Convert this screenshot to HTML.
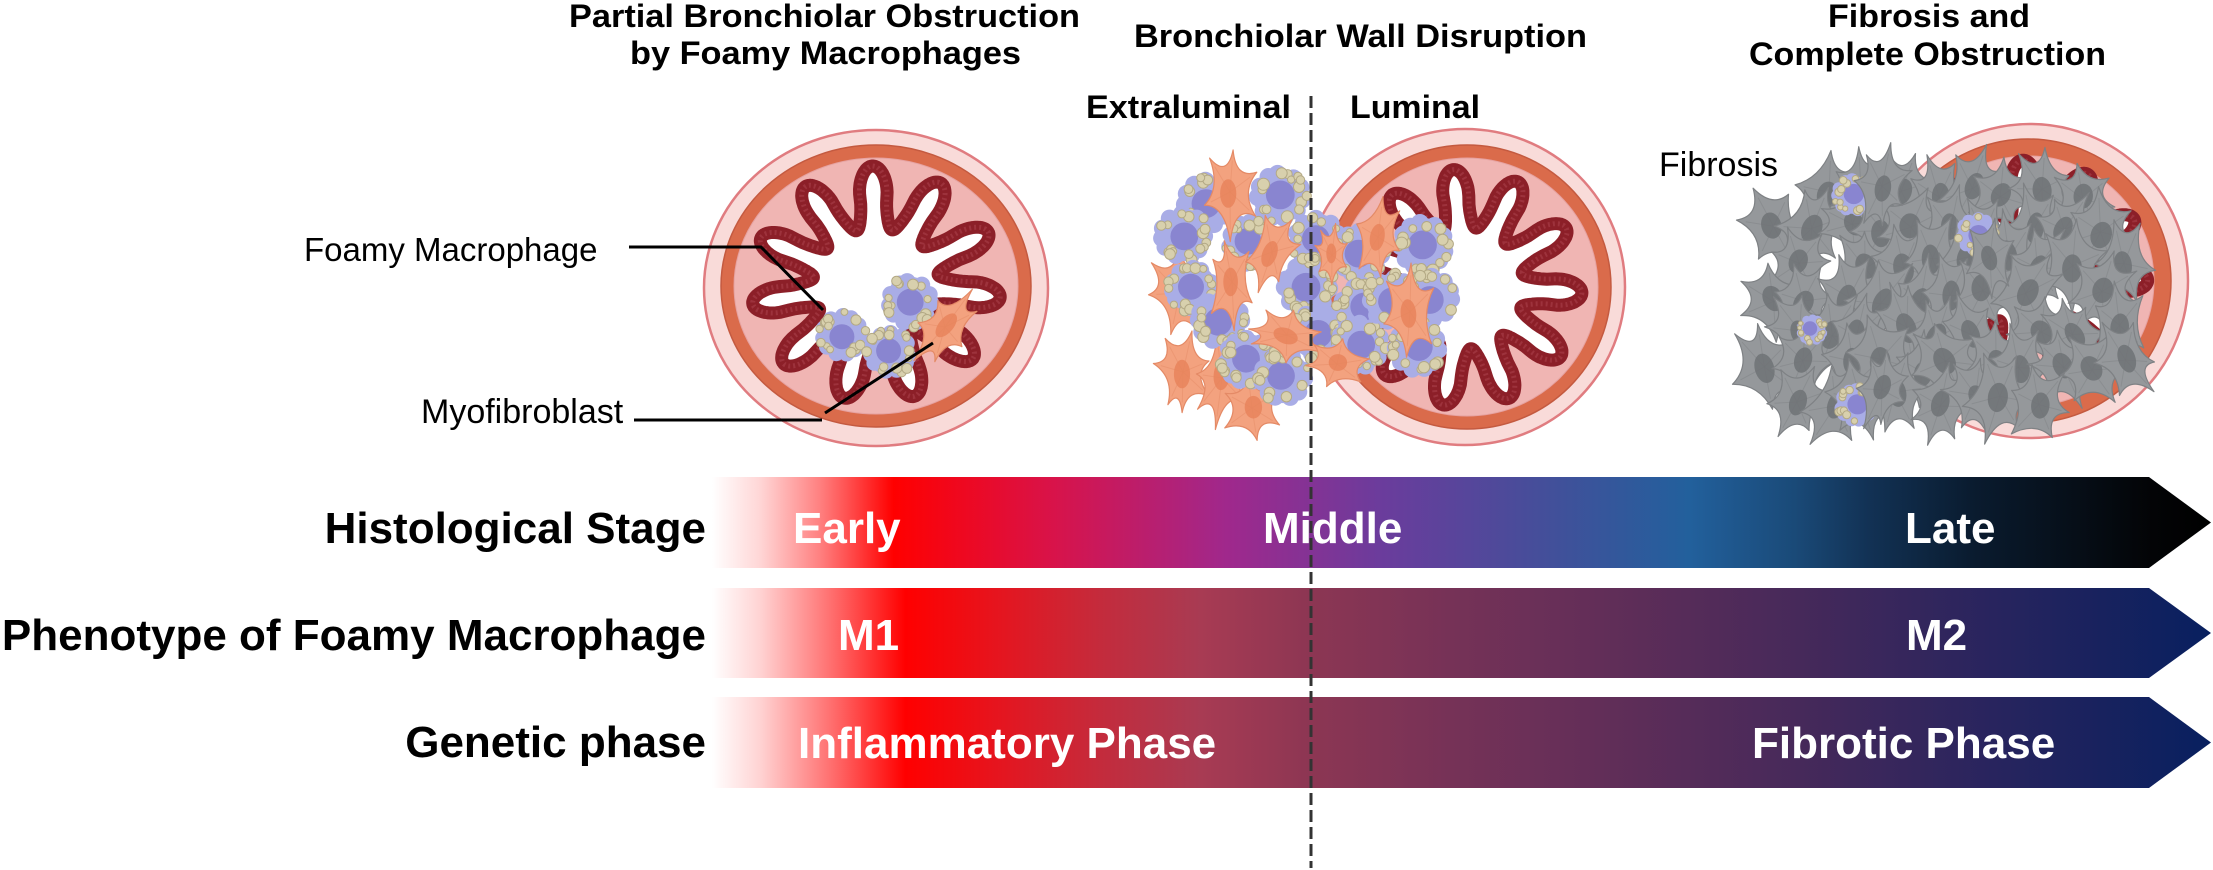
<!DOCTYPE html>
<html><head><meta charset="utf-8">
<style>
html,body{margin:0;padding:0;background:#fff;}
svg{display:block;}
text{font-family:"Liberation Sans", Arial, sans-serif;}
</style></head>
<body>
<svg id="s" width="2213" height="870" viewBox="0 0 2213 870" xmlns="http://www.w3.org/2000/svg">
<defs>
 <linearGradient id="g1" gradientUnits="userSpaceOnUse" x1="712" y1="0" x2="2211" y2="0">
  <stop offset="0" stop-color="#ffffff"/>
  <stop offset="0.032" stop-color="#ffd6d6"/>
  <stop offset="0.072" stop-color="#ff8080"/>
  <stop offset="0.121" stop-color="#ff0000"/>
  <stop offset="0.228" stop-color="#d8134a"/>
  <stop offset="0.343" stop-color="#a0288c"/>
  <stop offset="0.446" stop-color="#6b3c9c"/>
  <stop offset="0.546" stop-color="#474d9a"/>
  <stop offset="0.652" stop-color="#22609c"/>
  <stop offset="0.722" stop-color="#1a4a78"/>
  <stop offset="0.771" stop-color="#123255"/>
  <stop offset="0.839" stop-color="#0a1c30"/>
  <stop offset="0.961" stop-color="#030406"/>
  <stop offset="1" stop-color="#000000"/>
 </linearGradient>
 <linearGradient id="g2" gradientUnits="userSpaceOnUse" x1="712" y1="0" x2="2211" y2="0">
  <stop offset="0" stop-color="#ffffff"/>
  <stop offset="0.032" stop-color="#ffd3d3"/>
  <stop offset="0.079" stop-color="#ff7070"/>
  <stop offset="0.129" stop-color="#ff0000"/>
  <stop offset="0.192" stop-color="#e5151f"/>
  <stop offset="0.259" stop-color="#c42b3c"/>
  <stop offset="0.326" stop-color="#a83b53"/>
  <stop offset="0.400" stop-color="#8c3653"/>
  <stop offset="0.492" stop-color="#763257"/>
  <stop offset="0.592" stop-color="#622e58"/>
  <stop offset="0.726" stop-color="#46295a"/>
  <stop offset="0.859" stop-color="#27245e"/>
  <stop offset="1" stop-color="#08205f"/>
 </linearGradient>
</defs>

<g id="bronchioles">
 <ellipse cx="876" cy="288" rx="172" ry="158" fill="#f9dbd9" stroke="#e07c80" stroke-width="2.5"/>
 <ellipse cx="876" cy="286" rx="155" ry="141" fill="#da6b4b" stroke="#c45a40" stroke-width="1.5"/>
 <ellipse cx="876" cy="286" rx="142" ry="128" fill="#f0b5b3" stroke="#e6a2a1" stroke-width="1"/>

 <ellipse cx="1465" cy="287" rx="160" ry="158" fill="#f9dbd9" stroke="#e07c80" stroke-width="2.5"/>
 <ellipse cx="1467" cy="287" rx="144" ry="142" fill="#da6b4b" stroke="#c45a40" stroke-width="1.5"/>
 <ellipse cx="1467" cy="287" rx="131" ry="129" fill="#f0b5b3" stroke="#e6a2a1" stroke-width="1"/>

 <ellipse cx="2030" cy="281" rx="158" ry="157" fill="#f9dbd9" stroke="#e07c80" stroke-width="2.5"/>
 <ellipse cx="2028" cy="281" rx="143" ry="142" fill="#da6b4b" stroke="#c45a40" stroke-width="1.5"/>
 <ellipse cx="2028" cy="281" rx="126" ry="125" fill="#f0b5b3" stroke="#e6a2a1" stroke-width="1"/>
</g>
<g id="epi"></g>
<g id="cells"></g>

<polyline points="629,247 761,247 823,310" fill="none" stroke="#000" stroke-width="3"/>
<polyline points="634,420 822,420" fill="none" stroke="#000" stroke-width="3"/>
<line x1="825" y1="413" x2="933" y2="343" stroke="#000" stroke-width="3"/>

<path d="M712,477 H2149 L2211,522.5 L2149,568 H712 Z" fill="url(#g1)"/>
<path d="M712,588 H2149 L2211,633 L2149,678 H712 Z" fill="url(#g2)"/>
<path d="M712,697 H2149 L2211,742.5 L2149,788 H712 Z" fill="url(#g2)"/>

<line x1="1311" y1="96" x2="1311" y2="868" stroke="#333" stroke-width="3" stroke-dasharray="12 5"/>

<g font-weight="bold" font-size="32" fill="#000">
 <text x="569" y="27" textLength="511" lengthAdjust="spacingAndGlyphs">Partial Bronchiolar Obstruction</text>
 <text x="630" y="64" textLength="391" lengthAdjust="spacingAndGlyphs">by Foamy Macrophages</text>
 <text x="1134" y="47" textLength="453" lengthAdjust="spacingAndGlyphs">Bronchiolar Wall Disruption</text>
 <text x="1086" y="118" textLength="205" lengthAdjust="spacingAndGlyphs">Extraluminal</text>
 <text x="1350" y="118" textLength="130" lengthAdjust="spacingAndGlyphs">Luminal</text>
 <text x="1828" y="27" textLength="202" lengthAdjust="spacingAndGlyphs">Fibrosis and</text>
 <text x="1749" y="65" textLength="357" lengthAdjust="spacingAndGlyphs">Complete Obstruction</text>
</g>

<g font-size="33" fill="#000">
 <text x="304" y="261">Foamy Macrophage</text>
 <text x="421" y="423" font-size="34">Myofibroblast</text>
 <text x="1659" y="176" font-size="34">Fibrosis</text>
</g>

<g font-weight="bold" font-size="44" fill="#000" text-anchor="end">
 <text x="706" y="543">Histological Stage</text>
 <text x="706" y="650">Phenotype of Foamy Macrophage</text>
 <text x="706" y="757">Genetic phase</text>
</g>

<g font-weight="bold" font-size="44" fill="#fff">
 <text x="793" y="543">Early</text>
 <text x="1263" y="543">Middle</text>
 <text x="1905" y="543">Late</text>
 <text x="838" y="650">M1</text>
 <text x="1906" y="650">M2</text>
 <text x="798" y="758">Inflammatory Phase</text>
 <text x="1752" y="758">Fibrotic Phase</text>
</g>
</svg>

<script>
(function(){
var NS="http://www.w3.org/2000/svg";
var seed=20240611;
function rnd(){seed=(seed*1664525+1013904223)>>>0;return seed/4294967296;}
function R(a,b){return a+(b-a)*rnd();}
function el(p,tag,at){var e=document.createElementNS(NS,tag);for(var k in at)e.setAttribute(k,at[k]);p.appendChild(e);return e;}
var epi=document.getElementById('epi'),cells=document.getElementById('cells');

function epithelium(cx,cy,Rx,Ry,A,N,ph){
  var d="";
  for(var i=0;i<=900;i++){
    var t=i/900*Math.PI*2;
    var s0=Math.sin(N*t+ph);
    var s=(s0<0?-1:1)*Math.pow(Math.abs(s0),0.55);
    var x=cx+(Rx+A*s)*Math.cos(t),y=cy+(Ry+A*s)*Math.sin(t);
    d+=(i?"L":"M")+x.toFixed(1)+","+y.toFixed(1);
  }
  d+="Z";
  el(epi,"path",{d:d,fill:"#fff",stroke:"#8c1f28","stroke-width":13,"stroke-linejoin":"round"});
  el(epi,"path",{d:d,fill:"none",stroke:"#a8404a","stroke-width":5,"stroke-dasharray":"2 3",opacity:0.6});
}
epithelium(876,284,94,87,31,11,0.3);
epithelium(1465,288,88,90,29,11,1.1);
epithelium(2030,272,90,84,28,11,0.7);

function fib(g,cx,cy,w,h,rot,col,scol,ncol){
  var n=rnd()<0.5?6:7,tips=[],ctr=[];
  var off=R(0,360/n);
  for(var k=0;k<n;k++){
    var a=(k*360/n+off+R(-12,12))*Math.PI/180;
    var r=R(0.85,1.05);
    tips.push([r*Math.cos(a)*w/2,r*Math.sin(a)*h/2,a]);
  }
  for(var k2=0;k2<n;k2++){
    var a1=tips[k2][2],a2=tips[(k2+1)%n][2];if(a2<a1)a2+=2*Math.PI;
    var am=(a1+a2)/2,rc=R(0.3,0.42);
    ctr.push([rc*Math.cos(am)*w/2,rc*Math.sin(am)*h/2]);
  }
  var gg=el(g,"g",{transform:"translate("+cx.toFixed(1)+","+cy.toFixed(1)+") rotate("+rot.toFixed(1)+")"});
  var d="M"+tips[0][0].toFixed(1)+","+tips[0][1].toFixed(1);
  for(var j=0;j<n;j++){var t2=tips[(j+1)%n],c=ctr[j];
    d+="Q"+c[0].toFixed(1)+","+c[1].toFixed(1)+" "+t2[0].toFixed(1)+","+t2[1].toFixed(1);}
  d+="Z";
  el(gg,"path",{d:d,fill:col,stroke:scol,"stroke-width":1.2,"stroke-linejoin":"round"});
  tips.forEach(function(p){el(gg,"line",{x1:0,y1:0,x2:(p[0]*0.75).toFixed(1),y2:(p[1]*0.75).toFixed(1),stroke:scol,"stroke-width":1,opacity:0.45});});
  el(gg,"ellipse",{cx:R(-2,2).toFixed(1),cy:R(-3,3).toFixed(1),rx:(w*0.14).toFixed(1),ry:(h*0.15).toFixed(1),fill:ncol,opacity:0.85});
}
function mac(g,cx,cy,r){
  var gg=el(g,"g",{});
  for(var i=0;i<11;i++){var a=i/11*2*Math.PI+R(0,0.3);
    el(gg,"circle",{cx:(cx+Math.cos(a)*r*0.74).toFixed(1),cy:(cy+Math.sin(a)*r*0.74).toFixed(1),r:(r*0.3).toFixed(1),fill:"#a9ade6"});}
  el(gg,"circle",{cx:cx,cy:cy,r:(r*0.9).toFixed(1),fill:"#a9ade6"});
  el(gg,"circle",{cx:(cx+R(-2,2)).toFixed(1),cy:(cy+R(-2,2)).toFixed(1),r:(r*0.48).toFixed(1),fill:"#8985d0"});
  for(var j=0;j<16;j++){var a2=R(0,2*Math.PI),dd=R(0.62,0.92)*r;
    el(gg,"circle",{cx:(cx+Math.cos(a2)*dd).toFixed(1),cy:(cy+Math.sin(a2)*dd).toFixed(1),r:(R(0.12,0.2)*r).toFixed(1),fill:"#d8d0ad",stroke:"#b3a985","stroke-width":1});}
}
var OC="#f3a27f",OS="#e48a66",ON="#e7845c";

mac(cells,842,335,26);
mac(cells,910,302,28);
mac(cells,890,352,26);
fib(cells,945,327,52,95,40,OC,OS,ON);

[[1180,293,62,100,-10],[1183,372,58,95,0],[1222,378,58,100,5],[1252,408,62,75,0]].forEach(function(f){fib(cells,f[0],f[1],f[2],f[3],f[4],OC,OS,ON);});
[[1207,203,30],[1280,196,30],[1183,235,29],[1192,288,27],[1250,243,28],[1220,320,29],[1247,360,29],[1283,377,29],
 [1307,287,30],[1317,240,29],[1317,333,29],[1360,253,29],[1363,307,29],[1360,345,29],[1392,300,29],
 [1423,245,30],[1430,298,29],[1417,348,29]].forEach(function(m){mac(cells,m[0],m[1],m[2]);});
[[1230,192,58,95,0],[1232,282,52,95,0],[1272,252,52,90,20],[1287,335,90,52,20],[1332,255,36,66,0],
 [1378,237,52,90,10],[1410,312,56,95,-5],[1337,364,66,56,0]].forEach(function(f){fib(cells,f[0],f[1],f[2],f[3],f[4],OC,OS,ON);});

function inMask(x,y){
  if(y<205)return x>1800&&x<2095;
  if(y<240)return x>1768&&x<2115;
  if(y<390)return x>1762&&x<2128;
  return x>1780&&x<2055;
}
var gpos=[],row=0;
for(var y=195;y<=405;y+=34){
  for(var x=1755;x<=2150;x+=36){
    var xx=x+R(-9,9)+(row%2?18:0),yy=y+R(-7,7);
    if(inMask(xx,yy))gpos.push([xx,yy]);
  }
  row++;
}
var GC="#95989b",GS="#7e8184",GN="#6f7275";
gpos.forEach(function(p){if(rnd()<0.08)return;fib(cells,p[0],p[1],R(60,76),R(82,104),R(-35,35),GC,GS,GN);});
mac(cells,1853,195,21);
mac(cells,1977,234,21);
mac(cells,1856,405,21);
mac(cells,1812,330,15);
fib(cells,1882,186,58,88,10,GC,GS,GN);
fib(cells,1990,257,54,84,-15,GC,GS,GN);
fib(cells,1882,390,58,84,20,GC,GS,GN);
})();
</script>
</body></html>
